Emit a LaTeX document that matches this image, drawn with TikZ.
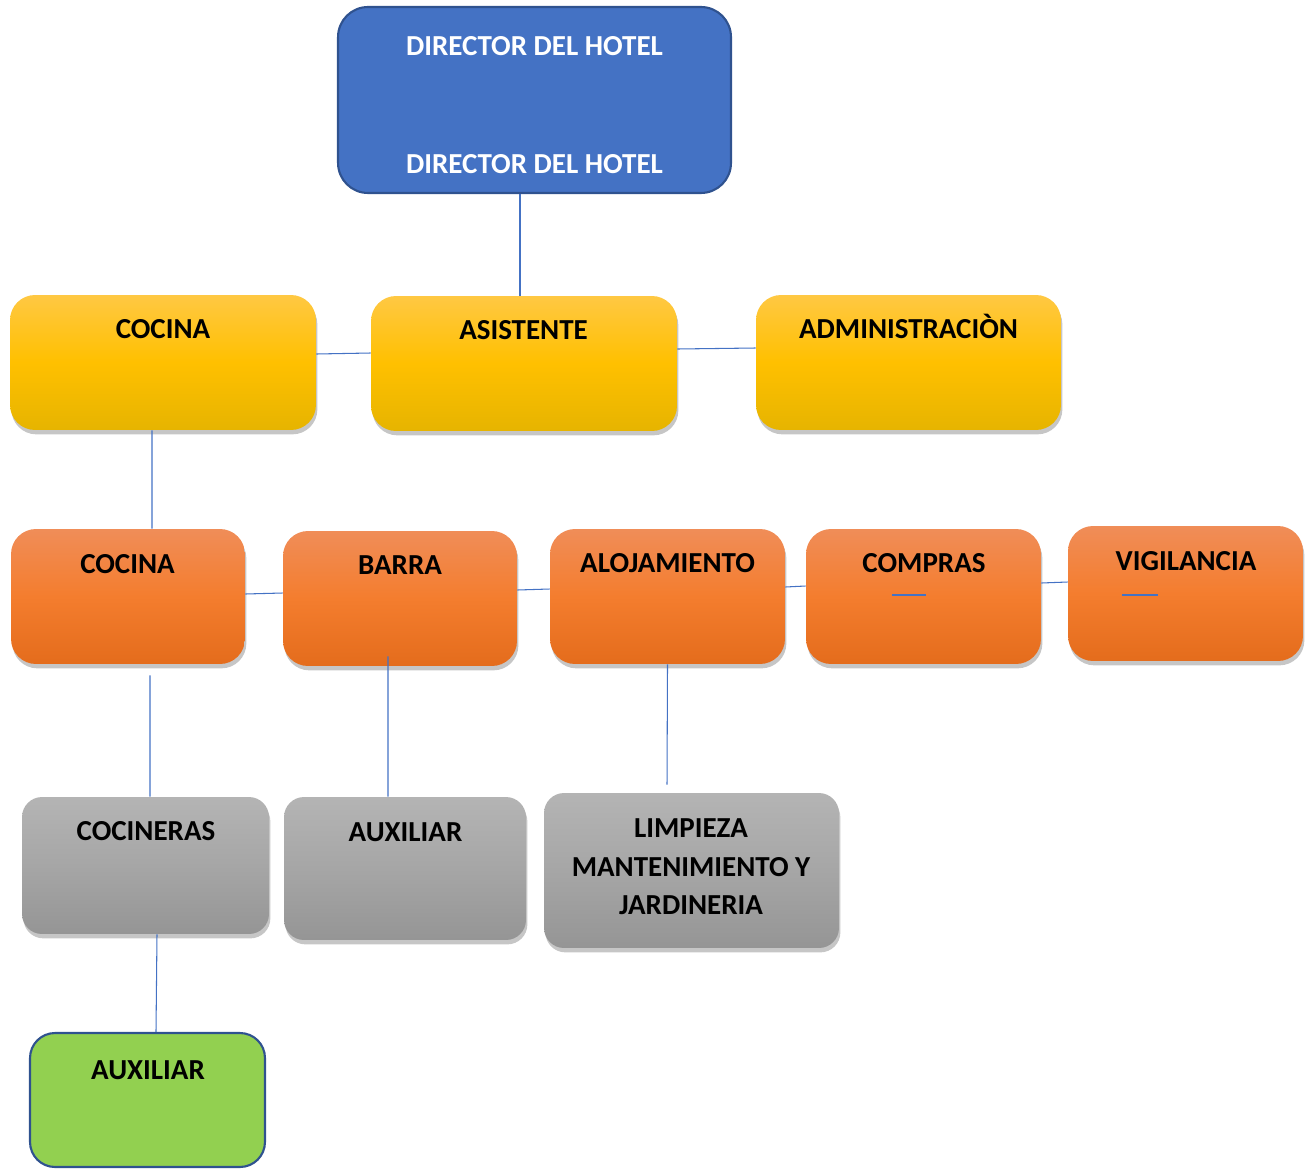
\documentclass[tikz,border=0pt]{standalone}
\usepackage{fontspec}
\setmainfont{Carlito}
\usetikzlibrary{shadows}

\definecolor{azul}{HTML}{4472C4}
\definecolor{azulborde}{HTML}{2F528F}
\definecolor{amarilloA}{HTML}{FFC843}
\definecolor{amarilloB}{HTML}{FFC000}
\definecolor{amarilloC}{HTML}{E6B400}
\definecolor{naranjaA}{HTML}{F08D58}
\definecolor{naranjaB}{HTML}{F47D2E}
\definecolor{naranjaC}{HTML}{E46C1C}
\definecolor{grisA}{HTML}{B4B4B4}
\definecolor{grisB}{HTML}{A6A6A6}
\definecolor{grisC}{HTML}{959595}
\definecolor{verde}{HTML}{92D050}

\tikzset{
  caja/.style={rectangle, rounded corners=0.5cm, inner sep=0pt,
    drop shadow={shadow xshift=0.8pt, shadow yshift=-2.5pt, opacity=0.45}},
  amarilla/.style={caja, top color=amarilloA, bottom color=amarilloC, middle color=amarilloB},
  naranja/.style={caja, top color=naranjaA, bottom color=naranjaC, middle color=naranjaB},
  gris/.style={caja, rounded corners=0.4cm, top color=grisA, bottom color=grisC, middle color=grisB},
  linea/.style={draw=azul, line width=0.6pt},
  texto/.style={font=\bfseries\fontsize{16.5}{22}\selectfont, inner sep=0pt, text height=10.6pt, text depth=0pt},
}

\begin{document}
\begin{tikzpicture}[x=0.02cm,y=-0.02cm]
\useasboundingbox (0,0) rectangle (1314,1169);

% director
\node [rectangle, rounded corners=0.6cm, fill=azul, draw=azulborde, line width=1.2pt,
  minimum width=7.86cm, minimum height=3.72cm] (dir) at (534.5,100) {};
\node [texto, white] (tDir1) at (534.5,46) {DIRECTOR DEL HOTEL};
\node [texto, white] (tDir2) at (534.5,164) {DIRECTOR DEL HOTEL};

% primer nivel
\node [amarilla, minimum width=6.12cm, minimum height=2.7cm] (cocA) at (163,362.5) {};
\node [amarilla, minimum width=6.12cm, minimum height=2.7cm] (asis) at (524,363.5) {};
\node [amarilla, minimum width=6.1cm, minimum height=2.7cm] (admin) at (908.5,362.5) {};
\node [texto] (tCocA) at (163,329) {COCINA};
\node [texto] (tAsis) at (523.5,330) {ASISTENTE};
\node [texto] (tAdmin) at (908.5,329) {ADMINISTRACIÒN};

% segundo nivel
\node [naranja, minimum width=4.68cm, minimum height=2.7cm] (cocB) at (128,596.5) {};
\node [naranja, minimum width=4.68cm, minimum height=2.7cm] (barra) at (400,598.5) {};
\node [naranja, minimum width=4.7cm, minimum height=2.7cm] (aloj) at (667.5,596.5) {};
\node [naranja, minimum width=4.7cm, minimum height=2.7cm] (compras) at (923.5,596.5) {};
\node [naranja, minimum width=4.7cm, minimum height=2.7cm] (vig) at (1185.5,593.5) {};
\node [texto] (tCocB) at (127.5,564) {COCINA};
\node [texto] (tBarra) at (400,565) {BARRA};
\node [texto] (tAloj) at (667.5,563) {ALOJAMIENTO};
\node [texto] (tCompras) at (924,563) {COMPRAS};
\node [texto] (tVig) at (1186,561) {VIGILANCIA};

% tercer nivel
\node [gris, minimum width=4.94cm, minimum height=2.74cm] (cocn) at (145.5,865.5) {};
\node [gris, minimum width=4.84cm, minimum height=2.86cm] (auxA) at (405,868.5) {};
\node [gris, minimum width=5.9cm, minimum height=3.1cm] (limp) at (691.5,870.5) {};
\node [texto] (tCocn) at (146,831) {COCINERAS};
\node [texto] (tAuxA) at (405.5,832) {AUXILIAR};
\node [font=\bfseries\fontsize{16.5}{22}\selectfont, align=center, inner sep=0pt] (tLimp) at (691,867)
  {LIMPIEZA\\MANTENIMIENTO Y\\JARDINERIA};

% cuarto nivel
\node [rectangle, rounded corners=0.5cm, fill=verde, draw=azulborde, line width=1.2pt,
  minimum width=4.7cm, minimum height=2.68cm] (auxB) at (147.5,1100) {};
\node [texto] (tAuxB) at (148,1070) {AUXILIAR};

% lineas
\draw [linea] ([xshift=-0.08cm]asis.north |- dir.south) -- ([xshift=-0.08cm]asis.north);
\draw [linea] ([yshift=0.17cm]cocA.east) -- ([yshift=0.21cm]asis.west);
\draw [linea] ([yshift=0.29cm]asis.east) -- ([yshift=0.29cm]admin.west);
\draw [linea] ([xshift=-0.22cm]cocA.south) -- ([xshift=0.48cm]cocB.north);
\draw [linea] ([yshift=0.05cm]cocB.east) -- ([yshift=0.11cm]barra.west);
\draw [linea] ([yshift=0.17cm]barra.east) -- ([yshift=0.15cm]aloj.west);
\draw [linea] ([yshift=0.19cm]aloj.east) -- ([yshift=0.21cm]compras.west);
\draw [linea] ([yshift=0.27cm]compras.east) -- ([yshift=0.23cm]vig.west);
\draw [linea] ([xshift=0.44cm,yshift=-0.22cm]cocB.south) -- ([xshift=0.09cm]cocn.north);
\draw [linea] ([xshift=-0.24cm,yshift=0.2cm]barra.south) -- ([xshift=-0.34cm]auxA.north);
\draw [linea] (aloj.south) -- ([xshift=-0.49cm,yshift=0.16cm]limp.north);
\draw [linea] ([xshift=0.23cm]cocn.south) -- ([xshift=0.17cm]auxB.north);
%\draw (aloj) -- (limp);
\draw [linea] ([xshift=-0.63cm,yshift=0.03cm]compras.center) -- ([xshift=0.05cm,yshift=0.03cm]compras.center);
\draw [linea] ([xshift=-1.27cm,yshift=-0.03cm]vig.center) -- ([xshift=-0.55cm,yshift=-0.03cm]vig.center);
\end{tikzpicture}
\end{document}
